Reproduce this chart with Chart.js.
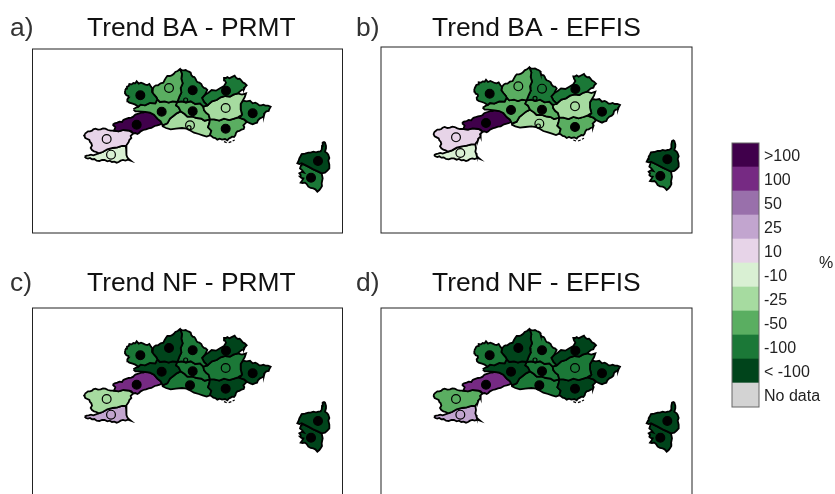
<!DOCTYPE html>
<html>
<head>
<meta charset="utf-8">
<title>Trend maps</title>
<script src="https://cdn.jsdelivr.net/npm/chart.js@4/dist/chart.umd.min.js"></script>
<style>
html, body { margin: 0; padding: 0; background: #fff; overflow: hidden; width: 835px; height: 494px; }
canvas { position: absolute; }
</style>
</head>
<body>
<canvas id="panelA"></canvas>
<canvas id="panelB"></canvas>
<canvas id="panelC"></canvas>
<canvas id="panelD"></canvas>
<canvas id="scaleBar"></canvas>
<script>
// legend classes, top to bottom
var classLabels = ['>100', '100', '50', '25', '10', '-10', '-25', '-50', '-100', '< -100', 'No data'];
var classColors = ['#40004b', '#762a83', '#9970ab', '#c2a5cf', '#e7d4e8', '#d9f0d3', '#a6dba0', '#5aae61', '#1b7837', '#00441b', '#d3d3d3'];
var classCells = [1, 1, 1, 1, 1, 1, 1, 1, 1, 1, 1];

// region outlines, map units
var r1 = [[165,92],[168,86],[171,80],[176,78],[178,72],[185,73],[190,69],[196,70],[200,64],[206,71],[213,68],[220,71],[226,74],[232,75],[238,72],[243,80],[248,86],[246,96],[252,104],[259,112],[262,118],[256,130],[240,129],[225,136],[212,134],[205,140],[196,134],[188,131],[178,128],[173,124],[172,118],[176,113],[175,108],[169,106],[166,100]];
var r2 = [[248,86],[253,79],[258,76],[264,76],[272,70],[280,68],[284,60],[288,53],[292,48],[299,48],[305,46],[311,42],[316,36],[323,33],[330,27],[336,42],[334,56],[338,70],[332,84],[334,98],[328,110],[322,126],[308,124],[296,128],[284,124],[270,126],[262,118],[259,112],[252,104],[246,96]];
var r3 = [[330,27],[336,31],[342,31],[347,30],[352,33],[357,35],[362,38],[364,45],[368,50],[373,51],[376,55],[379,62],[382,66],[388,68],[394,72],[397,79],[402,84],[407,85],[412,90],[405,104],[396,114],[402,126],[412,136],[400,140],[390,130],[376,132],[362,124],[348,128],[336,124],[322,126],[328,110],[334,98],[332,84],[338,70],[334,56],[336,42]];
var r4 = [[405,104],[415,98],[425,90],[438,92],[450,85],[462,78],[468,68],[464,61],[462,54],[468,54],[472,51],[478,55],[482,53],[488,50],[494,47],[498,53],[504,57],[509,56],[513,60],[518,67],[524,70],[530,76],[525,81],[522,88],[515,90],[510,94],[503,100],[490,104],[480,110],[466,108],[452,112],[440,120],[426,124],[412,136],[402,126],[396,114]];
var r5 = [[400,140],[412,136],[426,124],[440,120],[452,112],[466,108],[480,110],[490,104],[503,100],[516,104],[528,100],[524,112],[518,122],[512,132],[512,148],[516,164],[504,172],[492,176],[478,180],[462,176],[448,182],[432,178],[420,178],[416,164],[408,158],[402,150]];
var r6 = [[518,122],[530,124],[540,122],[548,130],[556,128],[562,131],[568,136],[574,136],[580,134],[586,137],[594,137],[602,140],[598,147],[596,153],[589,154],[584,159],[582,167],[577,172],[570,175],[564,181],[561,188],[554,190],[548,193],[541,190],[532,186],[522,178],[510,174],[516,164],[512,148],[512,132]];
var r7 = [[420,178],[432,178],[448,182],[462,176],[478,180],[492,176],[504,172],[510,174],[522,178],[530,186],[525,191],[520,196],[523,201],[521,207],[514,209],[508,213],[502,214],[498,219],[496,226],[492,231],[486,230],[482,233],[476,236],[472,241],[465,237],[456,239],[449,236],[442,239],[436,234],[430,233],[424,228],[420,226],[424,212],[414,202],[418,190]];
var r8 = [[322,126],[336,124],[348,128],[362,124],[376,132],[390,130],[400,140],[402,150],[408,158],[416,164],[420,178],[404,182],[394,176],[380,174],[368,170],[352,170],[344,162],[332,154],[326,142],[318,136]];
var r9 = [[190,148],[200,142],[205,140],[212,134],[225,136],[240,129],[256,130],[262,118],[270,126],[284,124],[296,128],[308,124],[322,126],[318,136],[326,142],[332,154],[320,160],[310,168],[300,176],[292,190],[278,196],[272,184],[262,176],[252,164],[240,158],[226,156],[206,154],[196,154]];
var r10 = [[128,194],[134,190],[142,188],[148,185],[156,186],[160,180],[164,178],[170,176],[176,174],[184,173],[190,170],[193,166],[196,164],[205,161],[214,158],[220,158],[226,155],[240,158],[252,164],[262,176],[272,184],[276,190],[269,194],[262,196],[254,198],[244,204],[236,205],[228,208],[220,210],[212,214],[207,219],[202,222],[196,219],[190,220],[184,214],[178,212],[160,210],[146,214],[132,212],[136,202]];
var r11 = [[276,198],[278,196],[292,190],[300,176],[310,168],[320,160],[332,154],[344,162],[352,170],[368,170],[380,174],[394,176],[404,182],[420,178],[418,190],[414,202],[424,212],[420,226],[410,230],[398,226],[386,222],[372,218],[362,212],[350,206],[336,204],[318,206],[302,208],[288,204]];
var r12 = [[44,222],[49,218],[54,214],[60,214],[66,212],[70,208],[76,206],[84,209],[92,208],[99,205],[106,206],[114,210],[122,212],[132,212],[146,214],[160,210],[178,212],[190,220],[186,224],[182,228],[184,234],[178,240],[176,246],[172,252],[170,255],[168,258],[156,258],[142,262],[128,264],[112,268],[98,276],[86,280],[79,276],[72,274],[66,270],[62,264],[66,257],[64,250],[60,246],[58,240],[52,237],[46,234],[43,228]];
var r13 = [[44,290],[50,287],[56,286],[63,284],[70,286],[86,280],[98,276],[112,268],[128,264],[142,262],[156,258],[168,258],[170,270],[168,280],[170,285],[172,292],[176,297],[182,302],[174,299],[166,302],[159,300],[152,302],[146,306],[140,308],[133,305],[126,306],[119,302],[112,304],[104,300],[96,300],[88,303],[80,302],[73,297],[66,298],[60,294],[54,296],[48,294]];
var corsicaN = [[755,270],[756,258],[758,248],[762,246],[765,248],[768,258],[768,265],[765,275],[772,280],[775,285],[778,294],[775,302],[778,314],[778,325],[772,332],[765,338],[755,340],[745,335],[730,328],[715,320],[695,310],[688,312],[682,310],[686,302],[688,295],[692,288],[695,282],[705,281],[715,278],[722,278],[730,275],[738,277],[745,275],[751,274]];
var corsicaS = [[695,310],[715,320],[730,328],[745,335],[755,340],[758,355],[755,370],[756,378],[752,385],[748,390],[742,395],[736,388],[730,385],[722,384],[715,380],[710,372],[705,368],[698,369],[692,368],[696,362],[700,355],[694,354],[690,350],[692,345],[688,340],[695,336],[702,338],[696,330],[690,325],[693,316]];
var regions = [r1, r2, r3, r4, r5, r6, r7, r8, r9, r10, r11, r12, r13, corsicaN, corsicaS];

var islands = [
    [[462,245],[470,248]],
    [[476,248],[484,245]],
    [[488,243],[494,240]]
];

// station dots: two tiny enclaves first, then one per region
var dotX = [347, 357, 211, 297, 368, 468, 467, 548, 467, 368, 275, 200, 360, 110, 123, 744, 723];
var dotY = [120, 203, 106, 84, 91, 92, 144, 160, 206, 154, 155, 194, 196, 237, 284, 303, 353];
var dotBig = [0, 0, 1, 1, 1, 1, 1, 1, 1, 1, 1, 1, 1, 1, 1, 1, 1];

// class of every region, per panel
var baPrmt = ['-100', '-50', '-100', '-100', '-25', '-100', '-50', '-50', '-50', '>100', '-25', '10', '-10', '< -100', '-100'];
var baEffis = ['-100', '-50', '-100', '-100', '-25', '-100', '-50', '-50', '-50', '>100', '-25', '10', '-10', '< -100', '-100'];
var nfPrmt = ['-100', '< -100', '-100', '< -100', '-100', '< -100', '< -100', '-100', '< -100', '100', '-100', '-25', '25', '< -100', '< -100'];
var nfEffis = ['-100', '< -100', '-100', '< -100', '-100', '< -100', '< -100', '-100', '< -100', '100', '-100', '-50', '25', '< -100', '< -100'];

// 1 = significant (filled dot), same order as dotX
var sigBaPrmt = [0, 0, 1, 0, 1, 1, 0, 1, 1, 1, 1, 1, 0, 0, 0, 1, 1];
var sigBaEffis = [0, 0, 1, 0, 0, 1, 0, 1, 1, 1, 1, 1, 0, 0, 0, 1, 1];
var sigNfPrmt = [0, 0, 1, 1, 1, 1, 0, 1, 1, 1, 1, 1, 1, 0, 0, 1, 1];
var sigNfEffis = [0, 0, 1, 1, 1, 1, 0, 1, 1, 1, 1, 1, 1, 0, 0, 1, 1];

function classColor(label) {
    return classColors[classLabels.indexOf(label)];
}

function toPoints(list) {
    return list.map(function(p){ return {x: p[0], y: p[1]}; });
}

var panelPlugin = {
    id: 'panelPlugin',
    afterDatasetsDraw: function(chart, args, opts){
        var ctx = chart.ctx, a = chart.chartArea;
        ctx.save();
        ctx.strokeStyle = '#222';
        ctx.lineWidth = 1;
        ctx.strokeRect(a.left, a.top, a.right - a.left, a.bottom - a.top);
        ctx.textBaseline = 'alphabetic';
        ctx.font = '26.4px "Liberation Sans"';
        ctx.fillStyle = '#333';
        ctx.fillText(opts.letter, opts.letterX, opts.textY);
        ctx.fillStyle = '#111';
        ctx.fillText(opts.title, opts.titleX, opts.textY);
        ctx.restore();
    }
};

function makePanel(p) {
    var canvas = document.getElementById(p.id);
    canvas.width = p.w;
    canvas.height = p.h;
    canvas.style.left = p.left + 'px';
    canvas.style.top = p.top + 'px';

    var datasets = [{
        data: dotX.map(function(x, i){ return {x: x, y: dotY[i]}; }),
        showLine: false,
        pointRadius: dotBig.map(function(b){ return b ? 4.4 : 2; }),
        pointBorderWidth: 1.2,
        pointBorderColor: '#000',
        pointBackgroundColor: p.sig.map(function(s){ return s ? '#000' : 'rgba(0,0,0,0)'; })
    }];
    islands.forEach(function(seg){
        datasets.push({data: toPoints(seg), showLine: true, pointRadius: 0, borderColor: '#000', borderWidth: 1.2});
    });
    regions.forEach(function(r, i){
        datasets.push({
            data: toPoints(r.concat([r[0]])),
            showLine: true,
            fill: 'shape',
            tension: 0,
            pointRadius: 0,
            borderColor: '#000',
            borderWidth: 1.8,
            backgroundColor: classColor(p.classes[i])
        });
    });

    return new Chart(canvas, {
        type: 'scatter',
        data: {datasets: datasets},
        plugins: [panelPlugin],
        options: {
            responsive: false,
            animation: false,
            events: [],
            layout: {autoPadding: false, padding: p.pad},
            scales: {
                x: {display: false, min: p.xMin, max: p.xMax},
                y: {display: false, reverse: true, min: p.yMin, max: p.yMax}
            },
            plugins: {
                legend: {display: false},
                tooltip: {enabled: false},
                panelPlugin: {letter: p.letter, letterX: p.letterX, title: p.title, titleX: p.titleX, textY: p.textY}
            }
        }
    });
}

makePanel({id: 'panelA', left: 0, top: 0, w: 345, h: 236, pad: {left: 32.5, right: 2.5, top: 49, bottom: 3},
    xMin: -112.5, xMax: 817.5, yMin: -33, yMax: 519,
    letter: 'a)', letterX: 10, title: 'Trend BA - PRMT', titleX: 87, textY: 36, classes: baPrmt, sig: sigBaPrmt});
makePanel({id: 'panelB', left: 350, top: 0, w: 345, h: 236, pad: {left: 31, right: 3, top: 47, bottom: 3},
    xMin: -115, xMax: 818, yMin: -34, yMax: 524,
    letter: 'b)', letterX: 6, title: 'Trend BA - EFFIS', titleX: 82, textY: 36, classes: baEffis, sig: sigBaEffis});
makePanel({id: 'panelC', left: 0, top: 259, w: 345, h: 238, pad: {left: 32.5, right: 2.5, top: 49, bottom: 2},
    xMin: -112.5, xMax: 817.5, yMin: -36, yMax: 525,
    letter: 'c)', letterX: 10, title: 'Trend NF - PRMT', titleX: 87, textY: 32, classes: nfPrmt, sig: sigNfPrmt});
makePanel({id: 'panelD', left: 350, top: 259, w: 345, h: 238, pad: {left: 31, right: 3, top: 49, bottom: 2},
    xMin: -115, xMax: 818, yMin: -36, yMax: 525,
    letter: 'd)', letterX: 6, title: 'Trend NF - EFFIS', titleX: 82, textY: 32, classes: nfEffis, sig: sigNfEffis});

var scaleCanvas = document.getElementById('scaleBar');
scaleCanvas.width = 110;
scaleCanvas.height = 280;
scaleCanvas.style.left = '725px';
scaleCanvas.style.top = '135px';

var scalePlugin = {
    id: 'scalePlugin',
    afterDatasetsDraw: function(chart){
        var ctx = chart.ctx, a = chart.chartArea;
        ctx.save();
        ctx.strokeStyle = '#666';
        ctx.lineWidth = 1;
        ctx.strokeRect(a.left, a.top, a.right - a.left, a.bottom - a.top);
        ctx.fillStyle = '#222';
        ctx.font = '16px "Liberation Sans"';
        ctx.textBaseline = 'alphabetic';
        ctx.fillText('%', 94, 133);
        ctx.restore();
    }
};

new Chart(scaleCanvas, {
    type: 'bar',
    data: {
        labels: classLabels,
        datasets: [{
            data: classCells,
            backgroundColor: classColors,
            barPercentage: 1,
            categoryPercentage: 1,
            borderWidth: 0
        }]
    },
    plugins: [scalePlugin],
    options: {
        indexAxis: 'y',
        responsive: false,
        animation: false,
        events: [],
        layout: {autoPadding: false, padding: {left: 7, top: 8, bottom: 8, right: 0}},
        scales: {
            x: {display: false, min: 0, max: 1},
            y: {
                position: 'right',
                grid: {display: false, drawTicks: false},
                border: {display: false},
                afterFit: function(scale){ scale.width = 76; scale.paddingTop = 0; scale.paddingBottom = 0; },
                ticks: {
                    autoSkip: false,
                    padding: 5,
                    labelOffset: 2,
                    color: '#222',
                    font: {family: '"Liberation Sans"', size: 16}
                }
            }
        },
        plugins: {legend: {display: false}, tooltip: {enabled: false}}
    }
});
</script>
</body>
</html>
